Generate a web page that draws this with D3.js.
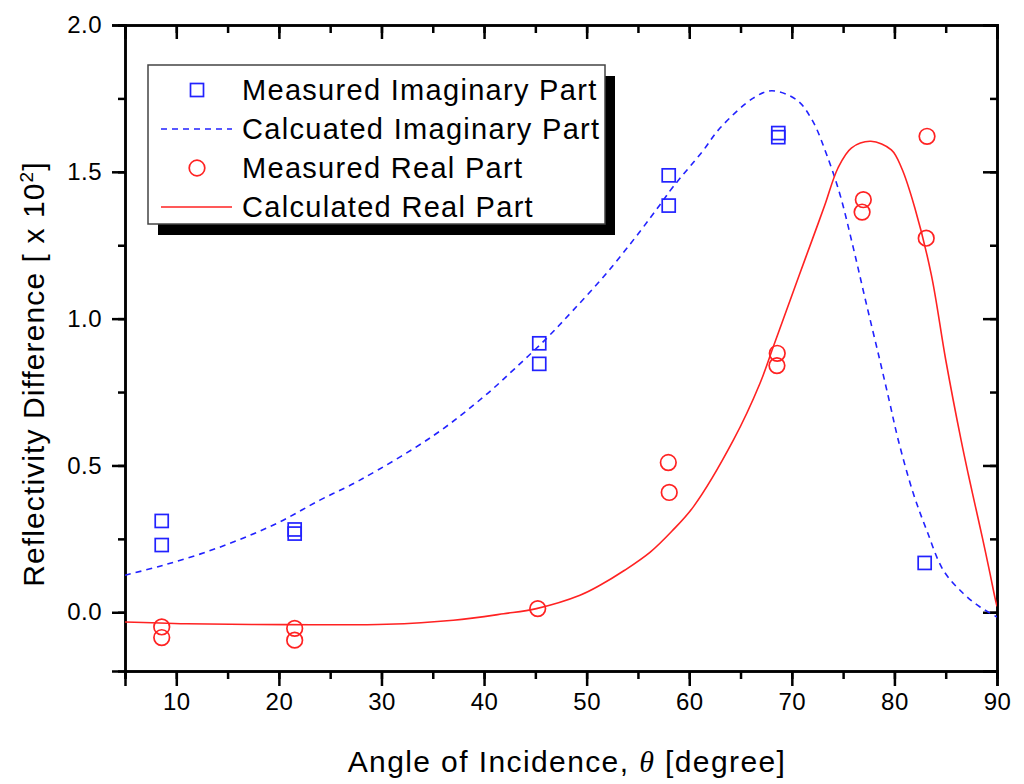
<!DOCTYPE html>
<html>
<head>
<meta charset="utf-8">
<script src="https://cdn.jsdelivr.net/npm/d3@7"></script>
<style>
  body { margin: 0; background: #fff; }
  svg text { font-family: "Liberation Sans", Arial, sans-serif; fill: #000; }
</style>
</head>
<body>
<svg id="chart" width="1024" height="784"></svg>
<script>
// measured points
var imagX = [8.58, 8.58, 21.54, 21.54, 45.38, 45.38, 58.0, 58.0, 68.68, 68.68, 82.95];
var imagY = [0.311, 0.229, 0.282, 0.268, 0.916, 0.846, 1.488, 1.385, 1.632, 1.618, 0.168];
var realX = [8.58, 8.58, 21.54, 21.54, 45.23, 57.96, 58.05, 68.58, 68.55, 76.97, 76.85, 83.18, 83.1];
var realY = [-0.050, -0.086, -0.055, -0.095, 0.0125, 0.510, 0.408, 0.882, 0.840, 1.405, 1.363, 1.621, 1.274];

// calculated curves
var calcImagX = [5, 8.4, 12.3, 16.2, 20.1, 24, 27.9, 35, 40, 43, 46.1, 48.7, 51.95, 55.2, 57.15, 58.45, 61.3, 63.0, 66.24, 68.03, 70.47, 72.0, 73.4, 74.7, 76.0, 77.2, 78.5, 79.5, 80.38, 81.84, 83.14, 84.77, 86.72, 88.35, 90];
var calcImagY = [0.126, 0.157, 0.198, 0.248, 0.308, 0.382, 0.450, 0.60, 0.735, 0.83, 0.933, 1.029, 1.155, 1.297, 1.388, 1.45, 1.570, 1.649, 1.751, 1.776, 1.745, 1.675, 1.558, 1.422, 1.240, 1.06, 0.87, 0.72, 0.586, 0.405, 0.280, 0.143, 0.064, 0.018, -0.016];
var calcRealX = [5, 11, 20.8, 30.5, 37, 41.9, 45.1, 49.35, 51.3, 53.7, 56.2, 58.3, 60.4, 64.3, 66.9, 68.2, 69.5, 70.7, 72.0, 73.2, 74.5, 75.8, 77.7, 79.7, 80.7, 82.0, 83.6, 85.0, 86.5, 87.2, 87.9, 88.6, 89.3, 89.8, 90];
var calcRealY = [-0.033, -0.039, -0.042, -0.041, -0.027, -0.005, 0.0125, 0.058, 0.092, 0.143, 0.205, 0.276, 0.359, 0.586, 0.780, 0.905, 1.03, 1.146, 1.27, 1.385, 1.513, 1.581, 1.604, 1.575, 1.513, 1.376, 1.149, 0.86, 0.586, 0.47, 0.36, 0.25, 0.135, 0.05, 0.02];

var xMajor = [10, 20, 30, 40, 50, 60, 70, 80, 90];
var yMajor = [0.0, 0.5, 1.0, 1.5, 2.0];

var legendLabels = ["Measured Imaginary Part", "Calcuated Imaginary Part", "Measured Real Part", "Calculated Real Part"];

var blue = "#2222ff", red = "#ff2222";
var margin = { left: 125, top: 25, right: 27, bottom: 113 };
var width = 1024 - margin.left - margin.right;
var height = 784 - margin.top - margin.bottom;

var svg = d3.select("#chart");
var g = svg.append("g").attr("transform", "translate(" + margin.left + "," + margin.top + ")");

var x = d3.scaleLinear().domain([5, 90]).range([0, width]);
var y = d3.scaleLinear().domain([-0.2, 2.0]).range([height, 0]);

var xMinor = d3.range(5, 91, 5);
var yMinor = d3.range(-0.25, 2.01, 0.25).filter(function(v) { return v >= -0.2; });

// axes
function styleAxis(sel) {
  sel.selectAll("path").attr("stroke", "#000").attr("stroke-width", 2.5);
  sel.selectAll("line").attr("stroke", "#000").attr("stroke-width", 2.5);
  sel.selectAll("text").style("font-size", "24px").style("letter-spacing", "0.5px").attr("fill", "#000");
}

// minor ticks first
g.append("g").attr("transform", "translate(0," + height + ")")
  .call(d3.axisBottom(x).tickValues(xMinor).tickSize(8).tickFormat(""))
  .call(styleAxis);
g.append("g")
  .call(d3.axisTop(x).tickValues(xMinor).tickSize(-8).tickFormat(""))
  .call(styleAxis);
g.append("g")
  .call(d3.axisLeft(y).tickValues(yMinor).tickSize(7).tickFormat(""))
  .call(styleAxis);
g.append("g").attr("transform", "translate(" + width + ",0)")
  .call(d3.axisRight(y).tickValues(yMinor).tickSize(-7).tickFormat(""))
  .call(styleAxis);

// major ticks
g.append("g").attr("transform", "translate(0," + height + ")")
  .call(d3.axisBottom(x).tickValues(xMajor).tickSize(15).tickPadding(7).tickFormat(d3.format("d")))
  .call(styleAxis);
g.append("g")
  .call(d3.axisTop(x).tickValues(xMajor).tickSize(-14).tickFormat(""))
  .call(styleAxis);
g.append("g")
  .call(d3.axisLeft(y).tickValues(yMajor).tickSize(13).tickPadding(10).tickFormat(d3.format(".1f")))
  .call(styleAxis);
g.append("g").attr("transform", "translate(" + width + ",0)")
  .call(d3.axisRight(y).tickValues(yMajor).tickSize(-14).tickFormat(""))
  .call(styleAxis);

// clip
g.append("clipPath").attr("id", "clip").append("rect")
  .attr("width", width).attr("height", height);

var plot = g.append("g").attr("clip-path", "url(#clip)");

var line = d3.line()
  .x(function(d) { return x(d[0]); })
  .y(function(d) { return y(d[1]); })
  .curve(d3.curveCatmullRom.alpha(0.5));

plot.append("path")
  .datum(d3.zip(calcImagX, calcImagY))
  .attr("d", line)
  .attr("fill", "none")
  .attr("stroke", blue)
  .attr("stroke-width", 1.6)
  .attr("stroke-dasharray", "6,5");

plot.append("path")
  .datum(d3.zip(calcRealX, calcRealY))
  .attr("d", line)
  .attr("fill", "none")
  .attr("stroke", red)
  .attr("stroke-width", 1.6);

var sq = 13;
g.selectAll(".sq")
  .data(d3.zip(imagX, imagY))
  .enter().append("rect")
  .attr("class", "sq")
  .attr("x", function(d) { return x(d[0]) - sq / 2; })
  .attr("y", function(d) { return y(d[1]) - sq / 2; })
  .attr("width", sq).attr("height", sq)
  .attr("fill", "none")
  .attr("stroke", blue)
  .attr("stroke-width", 1.7);

g.selectAll(".ci")
  .data(d3.zip(realX, realY))
  .enter().append("circle")
  .attr("class", "ci")
  .attr("cx", function(d) { return x(d[0]); })
  .attr("cy", function(d) { return y(d[1]); })
  .attr("r", 7.8)
  .attr("fill", "none")
  .attr("stroke", red)
  .attr("stroke-width", 1.7);

// legend
var lg = svg.append("g").attr("transform", "translate(148,65)");
lg.append("rect").attr("x", 10).attr("y", 11).attr("width", 457).attr("height", 159).attr("fill", "#000");
lg.append("rect").attr("x", 0).attr("y", 0).attr("width", 457).attr("height", 159)
  .attr("fill", "#fff").attr("stroke", "#444").attr("stroke-width", 1.5);

var rowY = [25, 64, 103, 142];
lg.append("rect").attr("x", 49 - 6.5).attr("y", rowY[0] - 6.5).attr("width", 13).attr("height", 13)
  .attr("fill", "none").attr("stroke", blue).attr("stroke-width", 1.7);
lg.append("line").attr("x1", 13).attr("x2", 84).attr("y1", rowY[1]).attr("y2", rowY[1])
  .attr("stroke", blue).attr("stroke-width", 1.6).attr("stroke-dasharray", "6,5");
lg.append("circle").attr("cx", 49).attr("cy", rowY[2]).attr("r", 7.8)
  .attr("fill", "none").attr("stroke", red).attr("stroke-width", 1.7);
lg.append("line").attr("x1", 13).attr("x2", 84).attr("y1", rowY[3]).attr("y2", rowY[3])
  .attr("stroke", red).attr("stroke-width", 1.6);

lg.selectAll(".lt")
  .data(legendLabels)
  .enter().append("text")
  .attr("x", 94)
  .attr("y", function(d, i) { return rowY[i] + 10; })
  .style("font-size", "29px")
  .style("letter-spacing", "1.3px")
  .text(function(d) { return d; });

// axis titles
var xt = svg.append("text")
  .attr("x", 567)
  .attr("y", 772)
  .attr("text-anchor", "middle")
  .style("font-size", "30px")
  .style("letter-spacing", "1.4px");
xt.append("tspan").text("Angle of Incidence, ");
xt.append("tspan").style("font-family", "'Liberation Serif', 'DejaVu Serif', serif").style("font-style", "italic").text("\u03b8");
xt.append("tspan").text(" [degree]");

var yt = svg.append("text")
  .attr("transform", "translate(44,374) rotate(-90)")
  .attr("text-anchor", "middle")
  .style("font-size", "30px")
  .style("letter-spacing", "1.1px");
yt.append("tspan").text("Reflectivity Difference [ x 10");
yt.append("tspan").attr("dy", -11).style("font-size", "19px").text("2");
yt.append("tspan").attr("dy", 11).text("]");
</script>
</body>
</html>
